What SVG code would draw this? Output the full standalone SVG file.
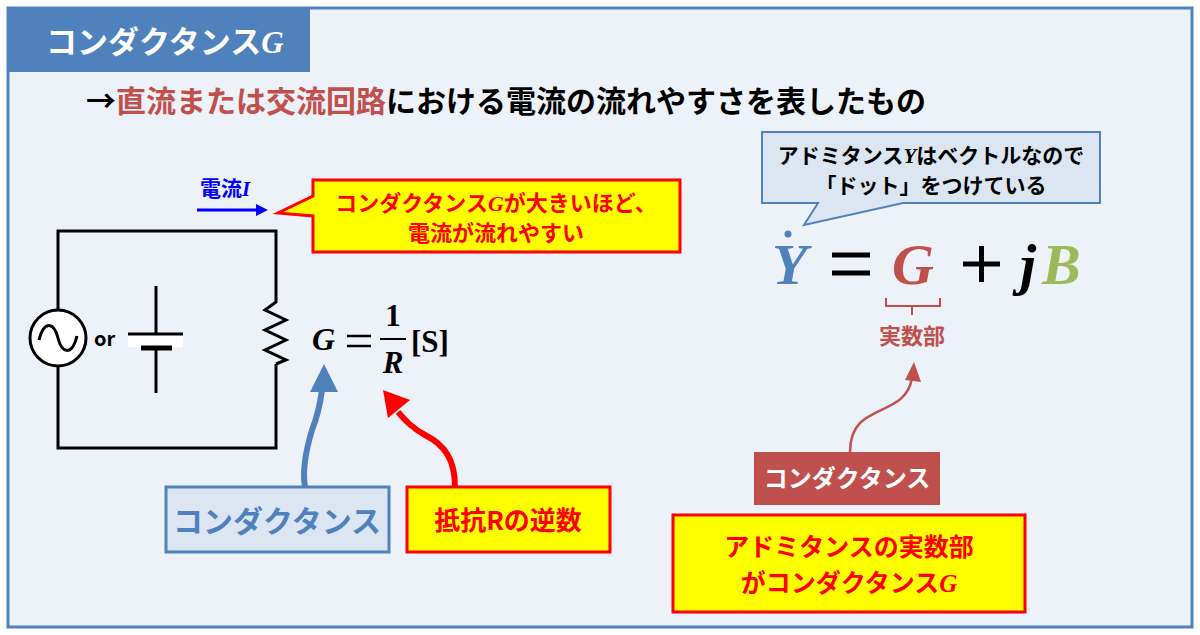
<svg xmlns="http://www.w3.org/2000/svg" width="1200" height="635" viewBox="0 0 1200 635">
<style>
text{font-family:"Noto Sans CJK JP","Noto Sans",sans-serif;font-weight:bold}
.m{font-family:"Liberation Serif","DejaVu Serif",serif;font-style:italic;font-weight:bold}
.s{font-family:"Liberation Serif","DejaVu Serif",serif;font-style:normal;font-weight:bold}
.w{fill:none;stroke:#000;stroke-width:3}
</style>
<defs>
<marker id="ab" viewBox="0 0 10 10" refX="5" refY="5" markerWidth="4" markerHeight="4" orient="auto"><path d="M0,0L10,5L0,10z" fill="#0000ff"/></marker>
</defs>
<rect x="8" y="8" width="1184" height="619" fill="#edf1f8" stroke="#4f81bd" stroke-width="3"/>
<g id="title"><rect x="8" y="8" width="302" height="64" fill="#4f81bd"/>
<text x="46" y="53" font-size="31" fill="#fff">コンダクタンス<tspan class="m">G</tspan></text></g>
<g id="subtitle"><text x="86" y="112" font-size="30">→<tspan fill="#c0504d">直流または交流回路</tspan>における電流の流れやすさを表したもの</text></g>
<g id="circuit">
<rect x="58" y="231" width="218" height="217" class="w"/>
<circle cx="58" cy="338" r="28" fill="#fff" stroke="#000" stroke-width="3"/>
<path d="M39,340 C44,320 54,322 58,338 C62,354 72,356 77,336" class="w"/>
<text x="94" y="346" font-size="20" font-family="Liberation Sans">or</text>
<rect x="128" y="334" width="55" height="13" fill="#fff"/>
<path d="M156,286V334M128,334H183M156,348V393" class="w"/>
<path d="M141,348H172" stroke="#000" stroke-width="5"/>
<rect x="264" y="299" width="21" height="65" fill="#edf1f8"/>
<path d="M276,299V302L265,310L286,320L265,330L286,340L265,350L286,360L276,364" class="w"/>
</g>
<g id="current"><text x="200" y="196" font-size="21" fill="#0000ff">電流<tspan class="m">I</tspan></text>
<path d="M197,210H262" stroke="#0000ff" stroke-width="3" marker-end="url(#ab)"/></g>
<g id="callout1"><path d="M313,180H680V252H313V216L278,213L313,196Z" fill="#ffff00" stroke="#ff0000" stroke-width="3"/>
<text x="496" y="211" font-size="22" fill="#ff0000" text-anchor="middle">コンダクタンス<tspan class="m">G</tspan>が大きいほど、</text>
<text x="496" y="241" font-size="22" fill="#ff0000" text-anchor="middle">電流が流れやすい</text></g>
<g id="formula1">
<text x="312" y="350" font-size="32" class="m">G</text>
<path d="M347,336H371M347,346H371" stroke="#000" stroke-width="2.5"/>
<text x="393" y="326" font-size="31" class="s" text-anchor="middle">1</text>
<path d="M380,339H406" stroke="#000" stroke-width="2"/>
<text x="393" y="373" font-size="31" class="m" text-anchor="middle">R</text>
<text x="411" y="352" font-size="31" class="s">[S]</text>
</g>
<g id="connectors">
<path d="M305,487C302,470 306,450 312,430C318,415 320,405 322,390" fill="none" stroke="#4f81bd" stroke-width="6"/>
<path d="M310,392L324,364L338,392Z" fill="#4f81bd"/>
<path d="M455,487C455,460 445,445 425,435C412,428 405,420 398,412" fill="none" stroke="#ff0000" stroke-width="6"/>
<path d="M383,390L410,400L388,418Z" fill="#ff0000"/>
<path d="M850,452C850,400 905,420 912,378" fill="none" stroke="#c0504d" stroke-width="2.5"/>
<path d="M905,380L914,362L921,382Z" fill="#c0504d"/>
</g>
<g id="box1"><rect x="166" y="487" width="223" height="65" fill="#dce6f2" stroke="#4f81bd" stroke-width="3"/>
<text x="277" y="532" font-size="30" fill="#4f81bd" text-anchor="middle">コンダクタンス</text></g>
<g id="box2"><rect x="407" y="487" width="203" height="65" fill="#ffff00" stroke="#ff0000" stroke-width="3"/>
<text x="508" y="530" font-size="26" fill="#ff0000" text-anchor="middle">抵抗Rの逆数</text></g>
<g id="callout2"><path d="M762,132H1100V203H903L804,225L818,203H762Z" fill="#dce6f2" stroke="#4f81bd" stroke-width="2"/>
<text x="931" y="163" font-size="21" text-anchor="middle">アドミタンス<tspan class="m">Y</tspan>はベクトルなので</text>
<text x="931" y="193" font-size="21" text-anchor="middle">「ドット」をつけている</text></g>
<g id="formula2">
<circle cx="788" cy="234" r="3.5" fill="#4f81bd"/>
<text x="772" y="284" font-size="58" class="m" fill="#4f81bd">Y</text>
<path d="M832,255H870M832,273H870" stroke="#000" stroke-width="5"/>
<text x="892" y="284" font-size="58" class="m" fill="#c0504d">G</text>
<path d="M963,264H1000M981.5,246V282" stroke="#000" stroke-width="5"/>
<text x="1020" y="284" font-size="58" class="m">j</text>
<text x="1042" y="284" font-size="58" class="m" fill="#9bbb59">B</text>
<path d="M886,298V306H912V315M912,306H940V298" fill="none" stroke="#c0504d" stroke-width="2"/>
<text x="912" y="344" font-size="22" fill="#c0504d" text-anchor="middle">実数部</text>
</g>
<g id="box3"><rect x="754" y="452" width="186" height="53" fill="#c0504d"/>
<text x="847" y="487" font-size="24" fill="#fff" text-anchor="middle">コンダクタンス</text></g>
<g id="box4"><rect x="673" y="515" width="352" height="97" fill="#ffff00" stroke="#ff0000" stroke-width="3"/>
<text x="849" y="556" font-size="25" fill="#ff0000" text-anchor="middle">アドミタンスの実数部</text>
<text x="849" y="592" font-size="25" fill="#ff0000" text-anchor="middle">がコンダクタンス<tspan class="m">G</tspan></text></g>
</svg>
